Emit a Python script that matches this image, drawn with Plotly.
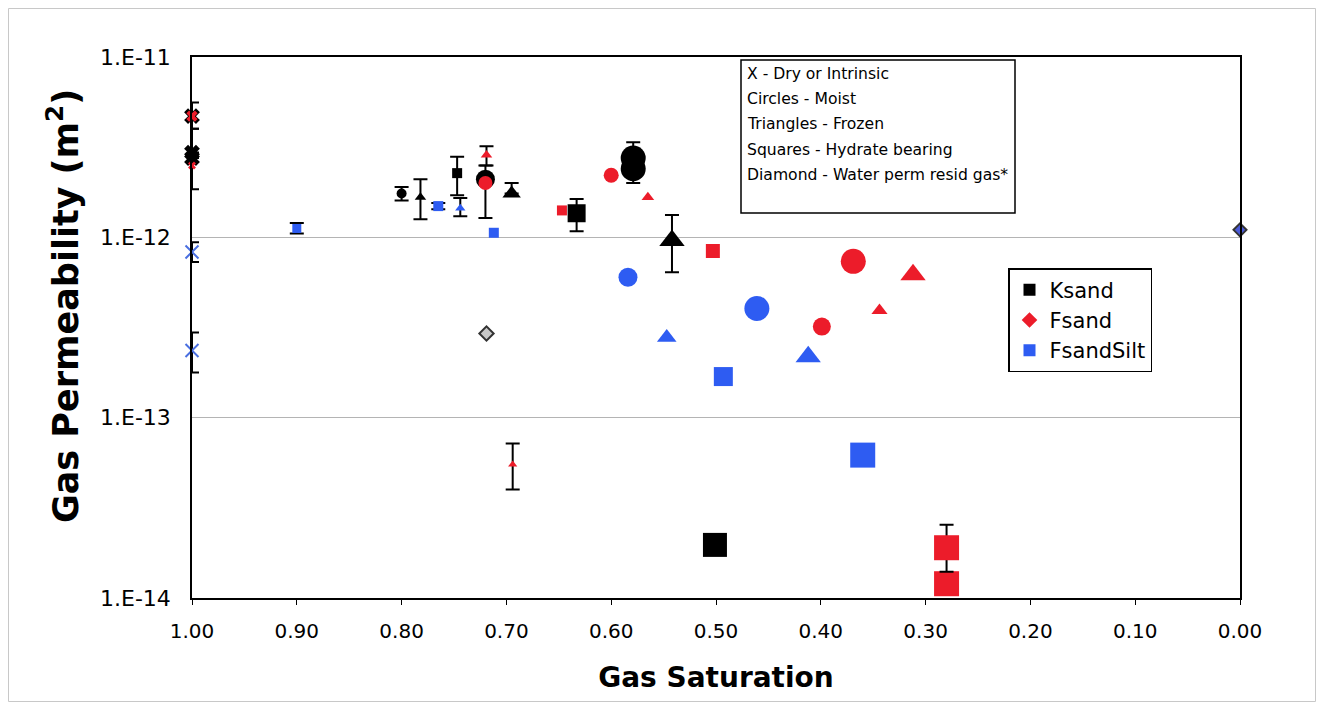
import plotly.graph_objects as go

# ---------------- data ----------------
# Ksand (black)
ks_dry_x = [1.0, 1.0, 1.0]
ks_dry_y = [4.7e-12, 2.95e-12, 2.75e-12]
ks_dry_hi = [5.6e-12, 4.0e-12, None]
ks_dry_lo = [4.0e-12, None, 1.85e-12]

ks_moist_x = [0.80, 0.72, 0.579, 0.579]
ks_moist_y = [1.75e-12, 2.1e-12, 2.75e-12, 2.4e-12]
ks_moist_hi = [1.9e-12, 2.5e-12, 3.37e-12, None]
ks_moist_lo = [1.6e-12, 1.28e-12, None, 2.0e-12]

ks_frozen_x = [0.782, 0.695, 0.542]
ks_frozen_y = [1.67e-12, 1.75e-12, 0.96e-12]
ks_frozen_hi = [2.1e-12, 2.0e-12, 1.33e-12]
ks_frozen_lo = [1.26e-12, None, 6.4e-13]

ks_hyd_x = [0.747, 0.633, 0.501]
ks_hyd_y = [2.27e-12, 1.36e-12, 1.97e-14]
ks_hyd_hi = [2.8e-12, 1.63e-12, None]
ks_hyd_lo = [1.71e-12, 1.08e-12, None]

# Fsand (red)
fs_dry_x = [1.0, 1.0]
fs_dry_y = [4.7e-12, 2.5e-12]

fs_moist_x = [0.72, 0.60, 0.369, 0.399]
fs_moist_y = [2.0e-12, 2.21e-12, 7.36e-13, 3.2e-13]

fs_frozen_x = [0.719, 0.565, 0.344, 0.312, 0.694]
fs_frozen_y = [2.86e-12, 1.67e-12, 3.93e-13, 6.2e-13, 5.5e-14]
fs_frozen_hi = [3.2e-12, None, None, None, 7.2e-14]
fs_frozen_lo = [2.5e-12, None, None, None, 4.0e-14]

fs_hyd_x = [0.647, 0.503, 0.280, 0.280]
fs_hyd_y = [1.41e-12, 8.4e-13, 1.9e-14, 1.2e-14]
fs_hyd_hi = [None, None, 2.55e-14, None]
fs_hyd_lo = [None, None, 1.4e-14, None]

# FsandSilt (blue)
fss_dry_x = [1.0, 1.0]
fss_dry_y = [8.3e-13, 2.36e-13]
fss_dry_hi = [9.4e-13, 2.97e-13]
fss_dry_lo = [7.3e-13, 1.78e-13]

fss_moist_x = [0.584, 0.461]
fss_moist_y = [6.0e-13, 4.03e-13]

fss_frozen_x = [0.744, 0.547, 0.412]
fss_frozen_y = [1.45e-12, 2.78e-13, 2.18e-13]
fss_frozen_hi = [1.65e-12, None, None]
fss_frozen_lo = [1.31e-12, None, None]

fss_hyd_x = [0.90, 0.765, 0.712, 0.493, 0.36]
fss_hyd_y = [1.12e-12, 1.49e-12, 1.06e-12, 1.69e-13, 6.2e-14]
fss_hyd_hi = [1.2e-12, 1.55e-12, None, None, None]
fss_hyd_lo = [1.05e-12, 1.43e-12, None, None, None]

# Diamonds - water perm resid gas
dia_x = [0.719, 0.0]
dia_y = [2.93e-13, 1.1e-12]

x_ticks = [1.0, 0.9, 0.8, 0.7, 0.6, 0.5, 0.4, 0.3, 0.2, 0.1, 0.0]
x_ticktext = ["1.00", "0.90", "0.80", "0.70", "0.60", "0.50", "0.40", "0.30", "0.20", "0.10", "0.00"]
y_ticks = [1e-14, 1e-13, 1e-12, 1e-11]
y_ticktext = ["1.E-14", "1.E-13", "1.E-12", "1.E-11"]

legend_names = ["Ksand", "Fsand", "FsandSilt"]
note_lines = ["X - Dry or Intrinsic", "Circles - Moist", "Triangles - Frozen",
              "Squares - Hydrate bearing", "Diamond - Water perm resid gas*"]
x_title = "Gas Saturation"
y_title = "Gas Permeability (m<sup>2</sup>)"

# ---------------- styles ----------------
BLACK = "#000000"
RED = "#ec1c2a"
BLUE = "#2e5cf2"

ks_dry_size = [14, 14, 14]
ks_moist_size = [10, 19, 25, 25]
ks_frozen_size = [10, 16, 22]
ks_hyd_size = [10, 18, 24]
fs_dry_size = [10, 7]
fs_moist_size = [14, 15, 25, 18]
fs_frozen_size = [10, 11, 14, 22, 8]
fs_hyd_size = [10, 14, 25, 25]
fss_dry_size = [13, 13]
fss_moist_size = [19, 25]
fss_frozen_size = [9, 17, 22]
fss_hyd_size = [9, 10, 10, 19, 25]
dia_size = [11, 10]
dia_fill = ["#c8c8c8", "#4a5ad8"]

fig = go.Figure()


def add(x, y, color, symbol, sizes, hi=None, lo=None, line=None):
    n = len(x)
    hi = hi if hi is not None else [None] * n
    lo = lo if lo is not None else [None] * n
    with_err = [i for i in range(n) if hi[i] is not None or lo[i] is not None]
    no_err = [i for i in range(n) if i not in with_err]
    mline = line if line else dict(width=0, color=color)
    for idx, has_err in ((no_err, False), (with_err, True)):
        if not idx:
            continue
        xs = [x[i] for i in idx]
        ys = [y[i] for i in idx]
        kw = {}
        if has_err:
            up = [(hi[i] - y[i]) if hi[i] is not None else 0 for i in idx]
            dn = [(y[i] - lo[i]) if lo[i] is not None else 0 for i in idx]
            kw["error_y"] = dict(type="data", symmetric=False, array=up, arrayminus=dn,
                                 color="black", thickness=2, width=7)
        fig.add_trace(go.Scatter(
            x=xs, y=ys, mode="markers", showlegend=False, cliponaxis=False,
            marker=dict(color=color, symbol=symbol, size=[sizes[i] for i in idx],
                        opacity=1, line=mline),
            **kw))


# Ksand
add(ks_dry_x, ks_dry_y, BLACK, "x", ks_dry_size, ks_dry_hi, ks_dry_lo)
add(ks_moist_x, ks_moist_y, BLACK, "circle", ks_moist_size, ks_moist_hi, ks_moist_lo)
add(ks_frozen_x, ks_frozen_y, BLACK, "triangle-up", ks_frozen_size, ks_frozen_hi, ks_frozen_lo)
add(ks_hyd_x, ks_hyd_y, BLACK, "square", ks_hyd_size, ks_hyd_hi, ks_hyd_lo)
# Fsand
add(fs_dry_x, fs_dry_y, RED, "x", fs_dry_size)
add(fs_moist_x, fs_moist_y, RED, "circle", fs_moist_size)
add(fs_frozen_x, fs_frozen_y, RED, "triangle-up", fs_frozen_size, fs_frozen_hi, fs_frozen_lo)
add(fs_hyd_x, fs_hyd_y, RED, "square", fs_hyd_size, fs_hyd_hi, fs_hyd_lo)
# FsandSilt
add(fss_dry_x, fss_dry_y, BLUE, "x-thin", fss_dry_size, fss_dry_hi, fss_dry_lo,
    line=dict(width=2, color="#4a6fe0"))
add(fss_moist_x, fss_moist_y, BLUE, "circle", fss_moist_size)
add(fss_frozen_x, fss_frozen_y, BLUE, "triangle-up", fss_frozen_size, fss_frozen_hi, fss_frozen_lo)
add(fss_hyd_x, fss_hyd_y, BLUE, "square", fss_hyd_size, fss_hyd_hi, fss_hyd_lo)
# Diamonds
fig.add_trace(go.Scatter(x=dia_x, y=dia_y, mode="markers", showlegend=False, cliponaxis=False,
                         marker=dict(symbol="diamond", size=dia_size, color=dia_fill, opacity=1,
                                     line=dict(width=2, color="#333333"))))

# legend entries
for name, color, sym, sz in zip(legend_names, [BLACK, RED, BLUE], ["square", "diamond", "square"], [7, 6, 11]):
    fig.add_trace(go.Scatter(x=[None], y=[None], mode="markers", name=name,
                             marker=dict(color=color, symbol=sym, size=sz)))

# page-pixel -> paper helpers (plot area in page pixels)
L, R = 192, 1240
T, B = 57, 598
OFF = 8  # default body margin of the html page
W, H = 1324 - 2 * OFF, 710 - 2 * OFF


def px_x(p):
    return (p - L) / (R - L)


def px_y(p):
    return (B - p) / (B - T)


fig.add_shape(type="rect", xref="paper", yref="paper",
              x0=px_x(741), x1=px_x(1015), y0=px_y(213), y1=px_y(60),
              line=dict(color="black", width=1.5), fillcolor="white", layer="below")
for i, t in enumerate(note_lines):
    fig.add_annotation(xref="paper", yref="paper", x=px_x(745), y=px_y(74 + 25.2 * i),
                       text=t, showarrow=False, xanchor="left", yanchor="middle",
                       font=dict(family="DejaVu Sans", size=15.6, color="black"))

# y-axis title (placed as rotated annotation)
fig.add_annotation(xref="paper", yref="paper", x=px_x(63), y=px_y(306),
                   text="<b>" + y_title + "</b>", showarrow=False, textangle=-90,
                   xanchor="center", yanchor="middle",
                   font=dict(family="DejaVu Sans", size=35, color="black"))

# outer border
fig.add_shape(type="rect", xref="paper", yref="paper",
              x0=px_x(8.5), x1=px_x(1315.5), y0=px_y(701.5), y1=px_y(8.5),
              line=dict(color="#c8c8c8", width=1), layer="below")

fig.update_layout(
    width=W, height=H,
    margin=dict(l=L - OFF, r=W - (R - OFF), t=T - OFF, b=H - (B - OFF), autoexpand=False),
    paper_bgcolor="white", plot_bgcolor="white",
    font=dict(family="DejaVu Sans", color="black"),
    showlegend=True,
    legend=dict(x=px_x(1008), y=px_y(268), xanchor="left", yanchor="top",
                bgcolor="white", bordercolor="black", borderwidth=1.5,
                font=dict(family="DejaVu Sans", size=21, color="black"),
                itemsizing="constant", tracegroupgap=0),
    xaxis=dict(range=[1.0, 0.0], tickvals=x_ticks, ticktext=x_ticktext,
               showgrid=False, zeroline=False, showline=True, mirror=True,
               linecolor="black", linewidth=1.5, ticks="outside", ticklen=5,
               tickcolor="black", tickfont=dict(size=20, family="DejaVu Sans"),
               ticklabelstandoff=9,
               title=dict(text="<b>" + x_title + "</b>", font=dict(size=28, family="DejaVu Sans"),
                          standoff=26)),
    yaxis=dict(type="log", range=[-14, -11], tickvals=y_ticks, ticktext=y_ticktext,
               showgrid=True, gridcolor="#b4b4b4", gridwidth=1, zeroline=False,
               showline=True, mirror=True, linecolor="black", linewidth=1.5,
               ticks="", tickfont=dict(size=22, family="DejaVu Sans"), ticklabelstandoff=15),
)

fig.write_html("out.html")
